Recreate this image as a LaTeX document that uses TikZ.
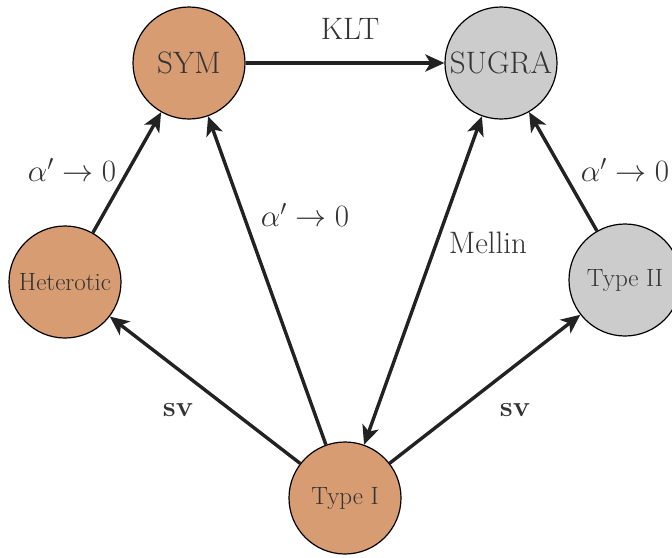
\RequirePackage{fix-cm}
\documentclass[tikz,border=0pt]{standalone}
\usetikzlibrary{arrows.meta}
\definecolor{nodeorange}{RGB}{216,156,115}
\definecolor{nodegray}{RGB}{204,204,204}
\definecolor{textcol}{RGB}{51,51,51}
\definecolor{linecol}{RGB}{34,34,34}
\begin{document}
\begin{tikzpicture}[x=1pt,y=-1pt,
  circ/.style={circle,draw=black,line width=1.2pt,minimum size=112pt,inner sep=0pt,text=textcol,font=\fontsize{25}{28}\selectfont},
  bigcirc/.style={circ,font=\fontsize{31}{34}\selectfont},
  orangenode/.style={fill=nodeorange},
  graynode/.style={fill=nodegray},
  conn/.style={draw=linecol,line width=3.4pt,-{Stealth[length=19pt,width=17pt,inset=5pt]}},
  dconn/.style={draw=linecol,line width=3.4pt,{Stealth[length=19pt,width=17pt,inset=5pt]}-{Stealth[length=19pt,width=17pt,inset=5pt]}},
  lab/.style={text=textcol,font=\fontsize{31}{34}\selectfont,inner sep=0pt},
  alab/.style={lab,font=\fontsize{31}{34}\selectfont},
  svlab/.style={lab,font=\fontsize{29}{32}\selectfont\bfseries}]
\useasboundingbox (0,0) rectangle (672,557);
\begin{scope}
\clip (0,0) rectangle (672,557);
\node[bigcirc,orangenode] (sym) at (189,63) {SYM};
\node[bigcirc,graynode] (sugra) at (501,63) {SUGRA};
\node[circ,orangenode] (het) at (65,282) {Heterotic};
\node[circ,graynode] (t2) at (625,280) {Type II};
\node[circ,orangenode] (t1) at (345,498) {Type I};
\end{scope}
\draw[conn] (sym) -- (sugra);
\draw[conn] (het) -- (sym);
\draw[conn] (t1) -- (sym);
\draw[dconn] (t1) -- (sugra);
\draw[conn] (t2) -- (sugra);
\draw[conn] (t1) -- (het);
\draw[conn] (t1) -- (t2);
\node[lab] (lklt) at (350,29) {KLT};
\node[alab] (la1) at (72,170) {$\alpha'\to0$};
\node[alab] (la2) at (305,215) {$\alpha'\to0$};
\node[lab] (lmel) at (488,243) {Mellin};
\node[alab] (la3) at (625,170) {$\alpha'\to0$};
\node[svlab] (lsv1) at (178,410) {sv};
\node[svlab] (lsv2) at (515,410) {sv};
\end{tikzpicture}
\end{document}
